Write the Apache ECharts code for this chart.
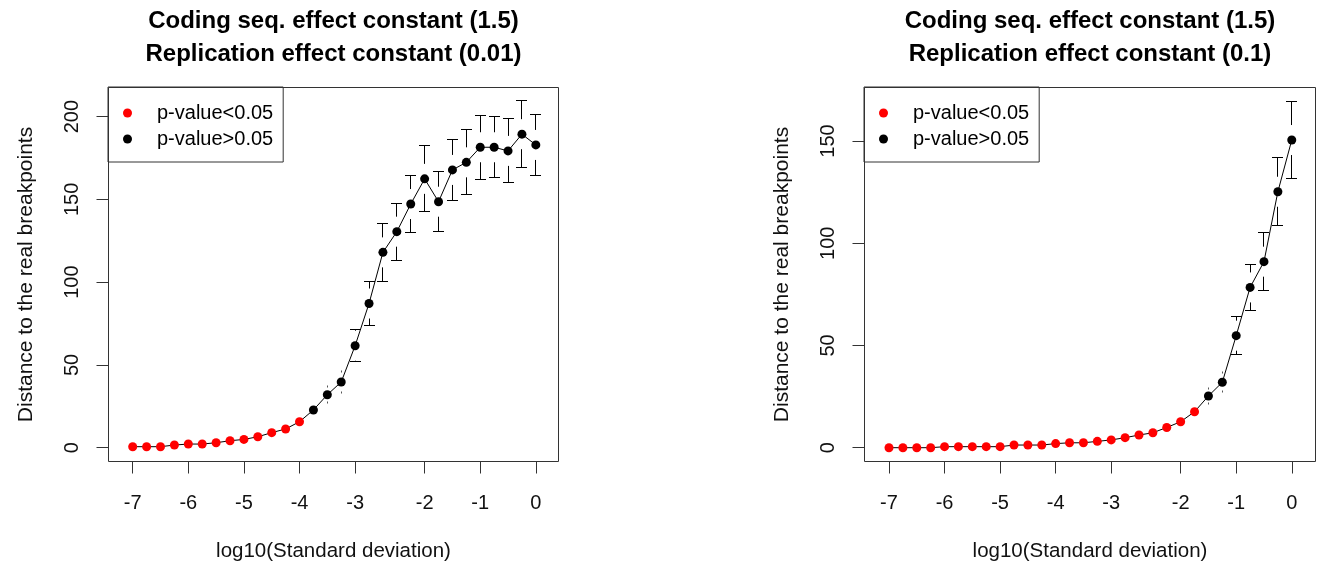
<!DOCTYPE html>
<html>
<head>
<meta charset="utf-8">
<script src="https://cdn.jsdelivr.net/npm/echarts@6/dist/echarts.min.js"></script>
<style>
  html, body { margin: 0; padding: 0; background: #fff; }
  #chart { width: 1320px; height: 569px; }
</style>
</head>
<body>
<div id="chart"></div>
<script>
// Simulation levels are plotted by their rank; ticks mark whole powers of ten.
const xTickIndex = [1, 5, 9, 13, 17, 22, 26, 30];
const xTickLabels = ['-7', '-6', '-5', '-4', '-3', '-2', '-1', '0'];

// Left panel: replication effect constant 0.01
const leftMean = [0.6, 0.6, 0.6, 1.6, 2.2, 2.2, 3.0, 4.2, 5.0, 6.6, 9.1, 11.3, 15.7, 22.8, 32.0,
                  39.7, 61.6, 87.1, 118.0, 130.5, 147.2, 162.4, 148.6, 167.8, 172.4, 181.5, 181.5, 179.3, 189.4, 182.9];
const leftSd = [0.4, 0.4, 0.4, 0.6, 0.7, 0.7, 0.8, 1.0, 1.1, 1.3, 1.6, 1.9, 2.2, 2.5, 4.9,
                6.3, 9.8, 13.1, 17.7, 17.3, 17.3, 20.0, 18.2, 18.3, 19.6, 19.3, 18.5, 19.3, 20.3, 18.6];
const leftSignificant = [1, 1, 1, 1, 1, 1, 1, 1, 1, 1, 1, 1, 1, 0, 0,
                         0, 0, 0, 0, 0, 0, 0, 0, 0, 0, 0, 0, 0, 0, 0];
const leftYTicks = [0, 50, 100, 150, 200];

// Right panel: replication effect constant 0.1
const rightMean = [0, 0, 0, 0, 0.5, 0.5, 0.5, 0.5, 0.5, 1.3, 1.3, 1.3, 2.0, 2.4, 2.4,
                   3.1, 3.8, 4.9, 6.2, 7.3, 9.9, 12.7, 17.6, 25.3, 32.0, 54.8, 78.4, 91.0, 125.2, 150.5];
const rightSd = [0.1, 0.1, 0.1, 0.1, 0.2, 0.2, 0.2, 0.2, 0.2, 0.3, 0.3, 0.3, 0.4, 0.5, 0.5,
                 0.6, 0.7, 0.8, 1.0, 1.1, 1.4, 1.7, 2.2, 3.9, 4.6, 9.2, 11.3, 14.1, 16.7, 19.0];
const rightSignificant = [1, 1, 1, 1, 1, 1, 1, 1, 1, 1, 1, 1, 1, 1, 1,
                          1, 1, 1, 1, 1, 1, 1, 1, 0, 0, 0, 0, 0, 0, 0];
const rightYTicks = [0, 50, 100, 150];

const titles = [
  'Coding seq. effect constant (1.5)\nReplication effect constant (0.01)',
  'Coding seq. effect constant (1.5)\nReplication effect constant (0.1)'
];
const xName = 'log10(Standard deviation)';
const yName = 'Distance to the real breakpoints';
const sigName = 'p-value<0.05';
const nonSigName = 'p-value>0.05';

const FONT = '"Liberation Sans", Arial, Helvetica, sans-serif';
const INK = '#000';
const FRAME = '#333';
const GAP = 15;      // blank space kept around each point before the error bar starts
const CAP = 5.5;     // half width of the error bar caps

const panels = [
  { mean: leftMean, sd: leftSd, sig: leftSignificant, yTicks: leftYTicks,
    grid: { left: 108.5, top: 87.5, width: 450, height: 374 },
    x: [-0.741, 31.63], y: [-8.34, 217.6], center: 333.5 },
  { mean: rightMean, sd: rightSd, sig: rightSignificant, yTicks: rightYTicks,
    grid: { left: 864.5, top: 87.5, width: 451, height: 374 },
    x: [-0.764, 31.71], y: [-6.75, 176.2], center: 1090 }
];

// Snap a coordinate onto the pixel grid so 1px strokes stay sharp.
function crisp(v) { return Math.round(v - 0.5) + 0.5; }

function errorBar(params, api) {
  const x = api.value(0), y = api.value(1), sd = api.value(2);
  const p = api.coord([x, y]);
  const px = crisp(p[0]);
  const ends = [api.coord([x, y + sd])[1], api.coord([x, y - sd])[1]];
  const children = [];
  const style = { stroke: INK, lineWidth: 1, fill: null };
  ends.forEach(function (ey) {
    const dir = ey < p[1] ? -1 : 1;
    const off = Math.abs(ey - p[1]);
    const cy = crisp(ey);
    if (off > GAP) {
      children.push({ type: 'line', shape: { x1: px, y1: p[1] + dir * GAP, x2: px, y2: cy }, style: style });
      children.push({ type: 'line', shape: { x1: px - CAP, y1: cy, x2: px + CAP, y2: cy }, style: style });
    } else if (off > 5) {
      children.push({ type: 'rect', shape: { x: px - 0.5, y: cy - 1, width: 1, height: 2 }, style: { fill: '#555' } });
    }
  });
  return { type: 'group', children: children };
}

const option = {
  backgroundColor: '#fff',
  animation: false,
  title: [],
  legend: [],
  grid: [],
  xAxis: [],
  yAxis: [],
  series: []
};

panels.forEach(function (pn, k) {
  const pos = pn.mean.map(function (_, i) { return i + 1; });
  const line = pn.mean.map(function (v, i) { return [pos[i], v]; });
  const bars = pn.mean.map(function (v, i) { return [pos[i], v, pn.sd[i]]; });
  const sigPts = line.filter(function (_, i) { return pn.sig[i] === 1; });
  const nonSigPts = line.filter(function (_, i) { return pn.sig[i] === 0; });

  option.title.push({
    text: titles[k],
    left: pn.center, top: 5, textAlign: 'center', padding: 0,
    textStyle: { fontFamily: FONT, fontSize: 24, fontWeight: 'bold', color: INK, lineHeight: 33 }
  });

  option.legend.push({
    left: pn.grid.left - 0.5, top: pn.grid.top - 0.5, orient: 'vertical',
    data: [sigName, nonSigName],
    icon: 'circle', itemWidth: 9, itemHeight: 9, itemGap: 6,
    padding: [16, 10, 13, 15],
    borderColor: FRAME, borderWidth: 1,
    selectedMode: false,
    textStyle: { fontFamily: FONT, fontSize: 20, color: INK, lineHeight: 20, padding: [0, 0, 0, 20] }
  });

  option.grid.push(Object.assign({ show: true, borderColor: FRAME, borderWidth: 1, backgroundColor: 'transparent' }, pn.grid));

  option.xAxis.push({
    type: 'value', gridIndex: k, min: pn.x[0], max: pn.x[1],
    splitLine: { show: false },
    axisLine: { show: false, onZero: false },
    axisTick: { show: true, length: 12, lineStyle: { color: FRAME }, customValues: xTickIndex },
    axisLabel: {
      customValues: xTickIndex, margin: 32,
      fontFamily: FONT, fontSize: 20, color: '#111',
      formatter: function (v) { return xTickLabels[xTickIndex.indexOf(v)]; }
    },
    name: xName, nameLocation: 'middle', nameGap: 79,
    nameTextStyle: { fontFamily: FONT, fontSize: 20.5, color: '#111' }
  });

  option.yAxis.push({
    type: 'value', gridIndex: k, min: pn.y[0], max: pn.y[1],
    splitLine: { show: false },
    axisLine: { show: false, onZero: false },
    axisTick: { show: true, length: 12, lineStyle: { color: FRAME }, customValues: pn.yTicks },
    axisLabel: {
      customValues: pn.yTicks, margin: 26, rotate: 90,
      fontFamily: FONT, fontSize: 20, color: '#111'
    },
    name: yName, nameLocation: 'middle', nameGap: 72,
    nameTextStyle: { fontFamily: FONT, fontSize: 21, color: '#111' }
  });

  option.series.push({
    type: 'line', xAxisIndex: k, yAxisIndex: k, data: line,
    showSymbol: false, symbol: 'none', silent: true, z: 1,
    lineStyle: { color: INK, width: 1 }
  });
  option.series.push({
    type: 'custom', xAxisIndex: k, yAxisIndex: k, data: bars,
    renderItem: errorBar, silent: true, z: 2
  });
  option.series.push({
    name: sigName, type: 'scatter', xAxisIndex: k, yAxisIndex: k, data: sigPts,
    symbol: 'circle', symbolSize: 9, itemStyle: { color: '#ff0000', opacity: 1 }, z: 3
  });
  option.series.push({
    name: nonSigName, type: 'scatter', xAxisIndex: k, yAxisIndex: k, data: nonSigPts,
    symbol: 'circle', symbolSize: 9, itemStyle: { color: INK, opacity: 1 }, z: 3
  });
});

const chart = echarts.init(document.getElementById('chart'), null, { renderer: 'canvas' });
chart.setOption(option);
</script>
</body>
</html>
